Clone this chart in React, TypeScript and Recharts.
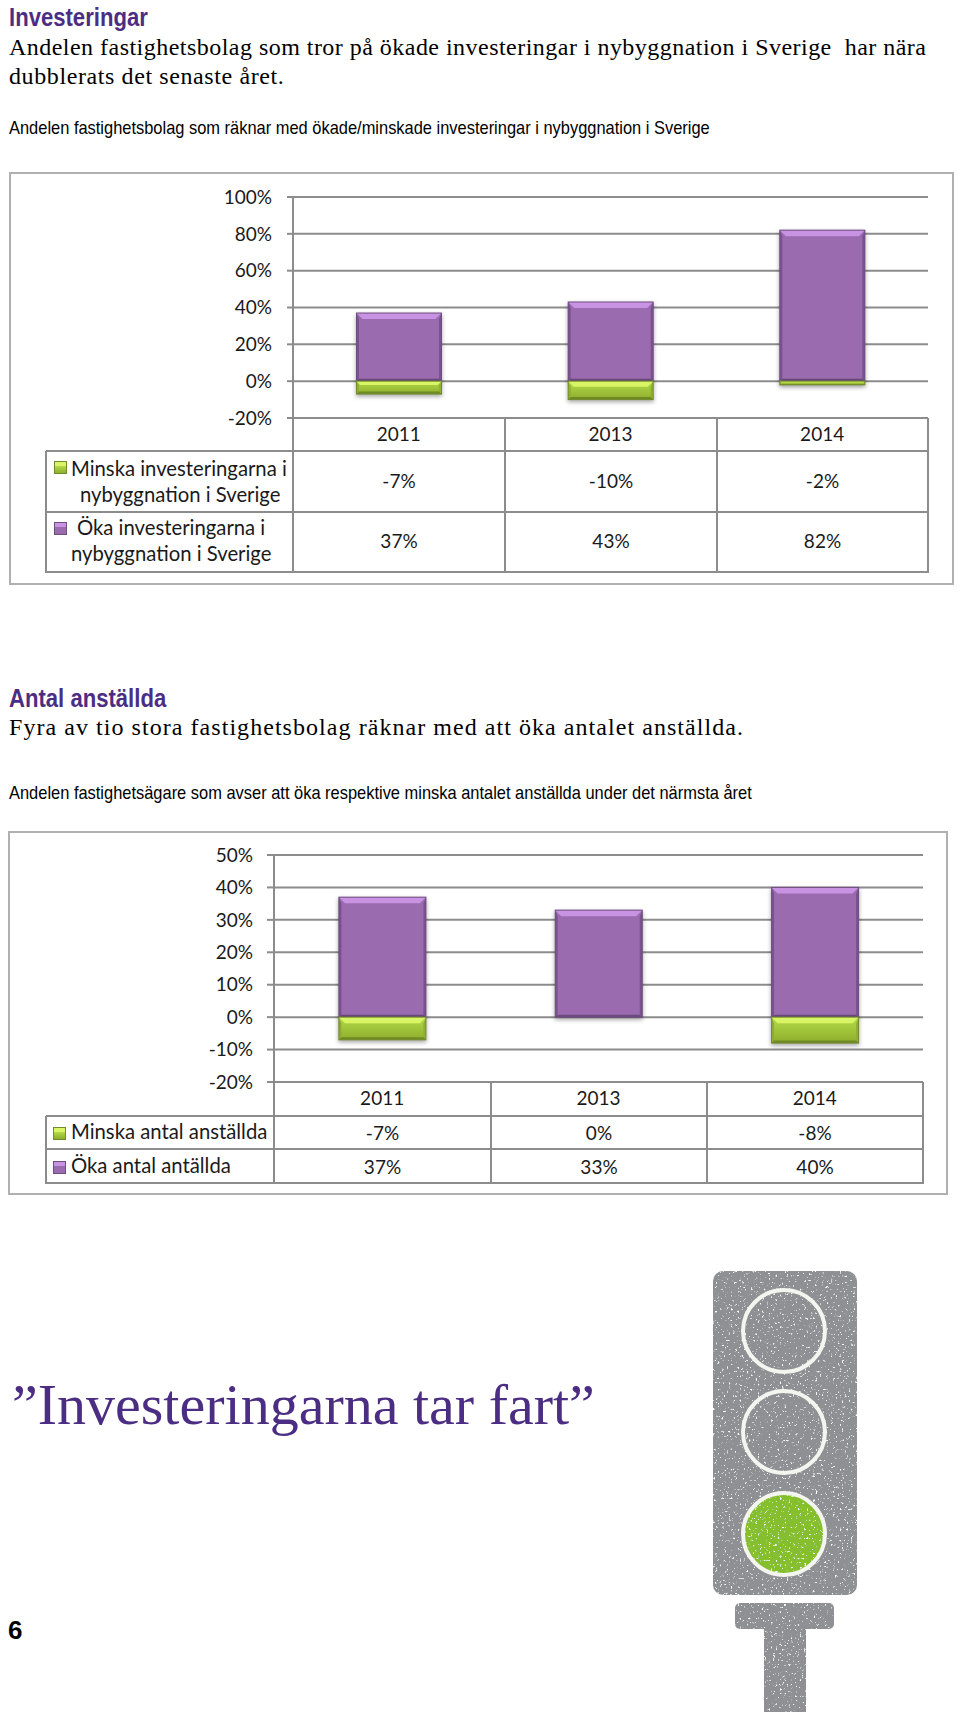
import { BarChart, Bar, XAxis, YAxis, CartesianGrid } from "recharts";

const years = ["2011", "2013", "2014"];

const investDecrease = [-7, -10, -2];
const investIncrease = [37, 43, 82];
const investTicks = [-20, 0, 20, 40, 60, 80, 100];

const staffDecrease = [-7, 0, -8];
const staffIncrease = [37, 33, 40];
const staffTicks = [-20, -10, 0, 10, 20, 30, 40, 50];

const investRows = years.map((year, i) => ({ year, minska: investDecrease[i], oka: investIncrease[i] }));
const staffRows = years.map((year, i) => ({ year, minska: staffDecrease[i], oka: staffIncrease[i] }));

const LINE = "#8c8c8c";
const CHART_FONT = "Lato, sans-serif";
const SANS = '"Liberation Sans", sans-serif';
const SERIF = '"Liberation Serif", serif';
const PURPLE_TEXT = "#4b2e83";

const purple = { top: "#c893e2", main: "#9a6bae", mainEnd: "#9a6bae", side: "#7a5290", bottom: "#6c4a7e", edge: "#6f4d80" };
const green = { top: "#d9f566", main: "#b4dc48", mainEnd: "#8dad2c", side: "#8fae33", bottom: "#6f8a25", edge: "#728c2c" };

function BevelBar(props: any) {
  const { x, y, width, height, colors } = props;
  if (!height) return null;
  const top = Math.min(y, y + height);
  const h = Math.abs(height);
  const b = Math.min(6, h * 0.3);
  const s = Math.min(2.5, h * 0.2);
  const r = x + width;
  const low = top + h;
  const gid = colors === green ? "bevel-green" : "bevel-purple";
  return (
    <g style={{ filter: "drop-shadow(0 2px 2px rgba(0,0,0,0.35))" }}>
      <defs>
        <linearGradient id={gid} x1="0" y1="0" x2="0" y2="1">
          <stop offset="0" stopColor={colors.main} />
          <stop offset="1" stopColor={colors.mainEnd} />
        </linearGradient>
      </defs>
      <rect x={x} y={top} width={width} height={h} fill={`url(#${gid})`} />
      <polygon points={`${x},${top} ${r},${top} ${r - b},${top + b} ${x + b},${top + b}`} fill={colors.top} />
      <polygon points={`${x},${top} ${x + s},${top + b} ${x + s},${low - s} ${x},${low}`} fill={colors.side} />
      <polygon points={`${r},${top} ${r - s},${top + b} ${r - s},${low - s} ${r},${low}`} fill={colors.side} />
      <polygon points={`${x},${low} ${x + s},${low - s} ${r - s},${low - s} ${r},${low}`} fill={colors.bottom} />
      <rect x={x} y={top} width={width} height={h} fill="none" stroke={colors.edge} strokeWidth={1} />
    </g>
  );
}

function Label({ x, y, size, font, color = "#000", weight = 400, children, center = false, spacing = 0, squeeze = 1 }: any) {
  return (
    <span
      style={{
        position: "absolute",
        left: x,
        top: y,
        transform: center ? "translate(-50%, -50%)" : `translateY(-50%) scaleX(${squeeze})`,
        transformOrigin: "left center",
        fontFamily: font,
        fontSize: size,
        fontWeight: weight,
        color,
        whiteSpace: "pre",
        lineHeight: 1,
        letterSpacing: spacing,
      }}
    >
      {children}
    </span>
  );
}

function HLine({ x1, x2, y }: any) {
  return <div style={{ position: "absolute", left: x1, top: y - 1, width: x2 - x1, height: 2, background: LINE }} />;
}
function VLine({ x, y1, y2 }: any) {
  return <div style={{ position: "absolute", left: x - 1, top: y1, width: 2, height: y2 - y1, background: LINE }} />;
}

function Swatch({ x, y, colors }: any) {
  return (
    <div
      style={{
        position: "absolute",
        left: x,
        top: y,
        width: 13,
        height: 13,
        boxSizing: "border-box",
        border: `1px solid ${colors.edge}`,
        background: `linear-gradient(${colors.top} 0 35%, ${colors.main} 35%, ${colors.mainEnd})`,
      }}
    />
  );
}

function Frame({ x1, x2, y1, y2 }: any) {
  return (
    <div
      style={{
        position: "absolute",
        left: x1,
        top: y1,
        width: x2 - x1,
        height: y2 - y1,
        boxSizing: "border-box",
        border: "2px solid #b0b0b0",
      }}
    />
  );
}

function StackChart({ data, ticks, domain, left, right, top, bottom, tickSize, tickMargin, yearRow }: any) {
  const chartH = bottom + yearRow + 10;
  return (
    <div style={{ position: "absolute", left: 0, top: 0 }}>
      <BarChart
        width={960}
        height={chartH}
        data={data}
        stackOffset="sign"
        barCategoryGap="30%"
        margin={{ top, left: left - 70, right: 960 - right, bottom: 10 }}
      >
        <CartesianGrid horizontal vertical={false} stroke={LINE} strokeWidth={2} syncWithTicks />
        <XAxis
          dataKey="year"
          height={yearRow}
          tickLine={false}
          axisLine={{ stroke: LINE, strokeWidth: 2 }}
          tickMargin={4}
          tick={{ fill: "#1a1a1a", fontSize: 19, fontFamily: CHART_FONT }}
        />
        <YAxis
          width={70}
          domain={domain}
          ticks={ticks}
          interval={0}
          allowDecimals={false}
          tickSize={tickSize}
          tickMargin={tickMargin}
          tickFormatter={(v: number) => `${v}%`}
          axisLine={{ stroke: LINE, strokeWidth: 2 }}
          tickLine={{ stroke: LINE, strokeWidth: 2 }}
          tick={{ fill: "#1a1a1a", fontSize: 19, fontFamily: CHART_FONT }}
        />
        <Bar dataKey="oka" stackId="a" isAnimationActive={false} shape={<BevelBar colors={purple} />} />
        <Bar dataKey="minska" stackId="a" isAnimationActive={false} shape={<BevelBar colors={green} />} />
      </BarChart>
    </div>
  );
}

function ValueCells({ values, cols, y }: any) {
  return values.map((v: number, i: number) => (
    <Label key={i} x={(cols[i] + cols[i + 1]) / 2} y={y} size={19} font={CHART_FONT} color="#1a1a1a" center>
      {v}%
    </Label>
  ));
}

function TrafficLight() {
  const cy = [1331, 1432, 1534];
  return (
    <svg width={960} height={1712} style={{ position: "absolute", left: 0, top: 0 }}>
      <defs>
        <filter id="speckle" x="0" y="0" width="100%" height="100%">
          <feTurbulence type="fractalNoise" baseFrequency="0.45" numOctaves={2} seed={4} result="n" />
          <feColorMatrix in="n" type="matrix" values="0 0 0 0 1  0 0 0 0 1  0 0 0 0 1  0 0 0 -7 2.5" result="dots" />
          <feComposite in="dots" in2="SourceAlpha" operator="in" result="clipped" />
          <feMerge>
            <feMergeNode in="SourceGraphic" />
            <feMergeNode in="clipped" />
          </feMerge>
        </filter>
      </defs>
      <g filter="url(#speckle)">
        <rect x={713} y={1271} width={144} height={324} rx={10} fill="#8e9094" />
        <rect x={735} y={1603} width={99} height={26} rx={5} fill="#8e9094" />
        <rect x={764} y={1625} width={42} height={87} fill="#8e9094" />
        <circle cx={784} cy={cy[2]} r={41} fill="#86bf2e" />
      </g>
      {cy.map((c) => (
        <circle key={c} cx={784} cy={c} r={41} fill="none" stroke="#f5f5f0" strokeWidth={4} />
      ))}
    </svg>
  );
}

export default function App() {
  const cols1 = [293, 505, 717, 928];
  const cols2 = [274, 491, 707, 923];
  return (
    <div style={{ position: "absolute", left: 0, top: 0, width: 960, height: 1712, overflow: "hidden", background: "#fff" }}>
      <Label x={9} y={17} size={26} font={SANS} weight={700} color={PURPLE_TEXT} squeeze={0.85}>Investeringar</Label>
      <Label x={9} y={47} size={24} font={SERIF} spacing={0.47}>Andelen fastighetsbolag som tror på ökade investeringar i nybyggnation i Sverige  har nära</Label>
      <Label x={9} y={76} size={24} font={SERIF} spacing={0.6}>dubblerats det senaste året.</Label>
      <Label x={9} y={127} size={19} font={SANS} squeeze={0.865}>Andelen fastighetsbolag som räknar med ökade/minskade investeringar i nybyggnation i Sverige</Label>

      <Frame x1={9} x2={954} y1={172} y2={585} />
      <StackChart data={investRows} ticks={investTicks} domain={[-20, 100]} left={293} right={928} top={197} bottom={418} tickSize={6} tickMargin={15} yearRow={33} />
      <HLine x1={46} x2={928} y={451} />
      <HLine x1={46} x2={928} y={512} />
      <HLine x1={46} x2={928} y={572} />
      <VLine x={46} y1={451} y2={573} />
      {cols1.map((c) => <VLine key={c} x={c} y1={418} y2={573} />)}
      <Swatch x={54} y={461} colors={green} />
      <Label x={71} y={468} size={20.3} font={CHART_FONT} color="#1a1a1a">Minska investeringarna i</Label>
      <Label x={80} y={494} size={20.3} font={CHART_FONT} color="#1a1a1a">nybyggnation i Sverige</Label>
      <Swatch x={54} y={522} colors={purple} />
      <Label x={77} y={527} size={20.3} font={CHART_FONT} color="#1a1a1a">Öka investeringarna i</Label>
      <Label x={71} y={553} size={20.3} font={CHART_FONT} color="#1a1a1a">nybyggnation i Sverige</Label>
      <ValueCells values={investDecrease} cols={cols1} y={480} />
      <ValueCells values={investIncrease} cols={cols1} y={540} />

      <Label x={9} y={698} size={26} font={SANS} weight={700} color={PURPLE_TEXT} squeeze={0.85}>Antal anställda</Label>
      <Label x={9} y={727} size={24} font={SERIF} spacing={1.05}>Fyra av tio stora fastighetsbolag räknar med att öka antalet anställda.</Label>
      <Label x={9} y={792} size={19} font={SANS} squeeze={0.865}>Andelen fastighetsägare som avser att öka respektive minska antalet anställda under det närmsta året</Label>

      <Frame x1={8} x2={948} y1={831} y2={1195} />
      <StackChart data={staffRows} ticks={staffTicks} domain={[-20, 50]} left={274} right={923} top={855} bottom={1082} tickSize={7} tickMargin={14} yearRow={34} />
      <HLine x1={46} x2={923} y={1116} />
      <HLine x1={46} x2={923} y={1149} />
      <HLine x1={46} x2={923} y={1183} />
      <VLine x={46} y1={1116} y2={1184} />
      {cols2.map((c) => <VLine key={c} x={c} y1={1082} y2={1184} />)}
      <Swatch x={53} y={1127} colors={green} />
      <Label x={71} y={1131} size={20.3} font={CHART_FONT} color="#1a1a1a">Minska antal anställda</Label>
      <Swatch x={53} y={1161} colors={purple} />
      <Label x={71} y={1165} size={20.3} font={CHART_FONT} color="#1a1a1a">Öka antal antällda</Label>
      <ValueCells values={staffDecrease} cols={cols2} y={1132} />
      <ValueCells values={staffIncrease} cols={cols2} y={1166} />

      <Label x={12} y={1405} size={58} font={SERIF} color={PURPLE_TEXT}>”Investeringarna tar fart”</Label>
      <Label x={8} y={1630} size={26} font={SANS} weight={700}>6</Label>
      <TrafficLight />
    </div>
  );
}
